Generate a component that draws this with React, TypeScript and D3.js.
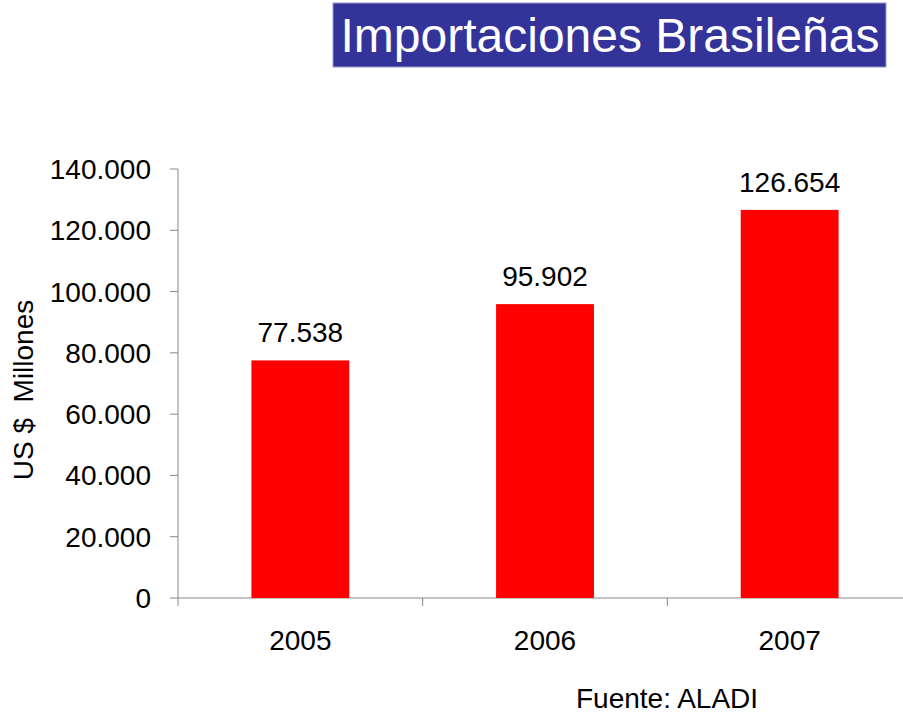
import React from "react";
import * as d3 from "d3";

const years = ["2005", "2006", "2007"];
const values = [77538, 95902, 126654];
const yTicks = [0, 20000, 40000, 60000, 80000, 100000, 120000, 140000];

const fmt = (v: number) =>
  v === 0 ? "0" : d3.format(",")(v).replace(/,/g, ".");

const App = () => {
  const width = 903,
    height = 717;
  const left = 178,
    top = 169,
    bottom = 598,
    right = 912;

  const x = d3.scaleBand().domain(years).range([left, right]).paddingInner(0.6).paddingOuter(0.3);
  const y = d3.scaleLinear().domain([0, 140000]).range([bottom, top]);
  const step = (right - left) / years.length;

  const font = "'Liberation Sans', Arial, sans-serif";

  return (
    <svg
      width={width}
      height={height}
      style={{ position: "absolute", left: 0, top: 0, background: "#fff" }}
      fontFamily={font}
    >
      {/* title */}
      <rect x={333} y={3} width={553} height={64} fill="#333399" stroke="#9999cc" strokeWidth={1} />
      <text x={610} y={52} textAnchor="middle" fontSize={48} fill="#fff">
        Importaciones Brasileñas
      </text>

      {/* y axis */}
      <line x1={left} x2={left} y1={top} y2={bottom} stroke="#888" />
      {yTicks.map((t) => (
        <g key={t}>
          <line x1={left - 8} x2={left} y1={y(t)} y2={y(t)} stroke="#888" />
          <text x={151} y={y(t) + 10} textAnchor="end" fontSize={28} fill="#000">
            {fmt(t)}
          </text>
        </g>
      ))}

      {/* x axis */}
      <line x1={left} x2={right} y1={bottom} y2={bottom} stroke="#888" />
      {d3.range(years.length + 1).map((i) => (
        <line key={i} x1={left + i * step} x2={left + i * step} y1={bottom} y2={bottom + 8} stroke="#888" />
      ))}

      {/* bars */}
      {years.map((yr, i) => (
        <g key={yr}>
          <rect
            x={x(yr)}
            y={y(values[i])}
            width={x.bandwidth()}
            height={bottom - y(values[i])}
            fill="#ff0000"
          />
          <text
            x={(x(yr) as number) + x.bandwidth() / 2}
            y={y(values[i]) - 18}
            textAnchor="middle"
            fontSize={28}
            fill="#000"
          >
            {fmt(values[i])}
          </text>
          <text
            x={(x(yr) as number) + x.bandwidth() / 2}
            y={650}
            textAnchor="middle"
            fontSize={28}
            fill="#000"
          >
            {yr}
          </text>
        </g>
      ))}

      {/* y label */}
      <text
        transform={`translate(33,390) rotate(-90)`}
        textAnchor="middle"
        fontSize={28}
        fill="#000"
        xmlSpace="preserve"
      >
        US $  Millones
      </text>

      {/* source */}
      <text x={576} y={708} fontSize={28} fill="#000">
        Fuente: ALADI
      </text>
    </svg>
  );
};

export default App;
